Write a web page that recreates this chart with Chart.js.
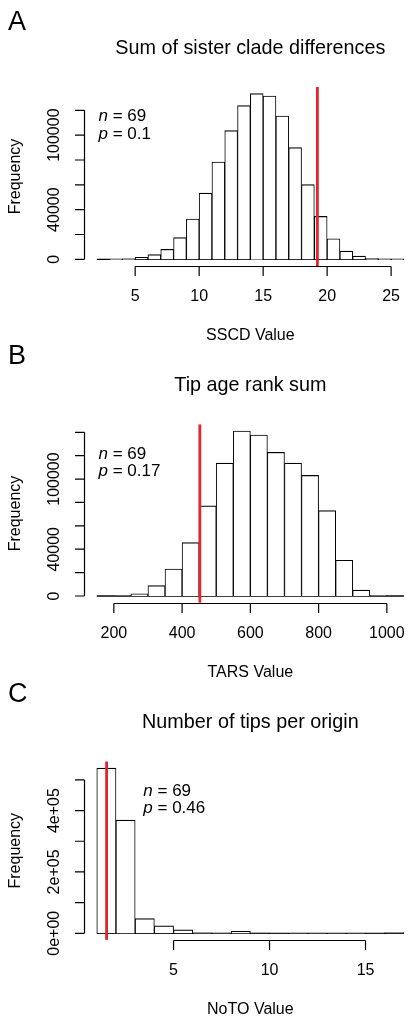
<!DOCTYPE html>
<html>
<head>
<meta charset="utf-8">
<script src="https://cdn.jsdelivr.net/npm/chart.js@4.4.1/dist/chart.umd.min.js"></script>
<style>
  html, body { margin: 0; padding: 0; background: #fff; overflow: hidden; }
  #wrap { position: relative; width: 414px; height: 1024px; overflow: hidden; }
  canvas { position: absolute; left: 0; }
</style>
</head>
<body>
<div id="wrap">
  <canvas id="panelA" width="420" height="340" style="top:0px"></canvas>
  <canvas id="panelB" width="420" height="340" style="top:340px"></canvas>
  <canvas id="panelC" width="420" height="344" style="top:680px"></canvas>
</div>
<script>
// A - sum of sister clade differences (bin lower edges, counts)
const sscdBins   = [2, 3, 4, 5, 6, 7, 8, 9, 10, 11, 12, 13, 14, 15, 16, 17, 18, 19, 20, 21, 22, 23, 24, 25];
const sscdCounts = [0, 100, 400, 1600, 3800, 8100, 17500, 32500, 53400, 78400, 103600, 123700,
                    133400, 131500, 115400, 89900, 60100, 34600, 16600, 6700, 2600, 900, 300, 80];
const sscdObserved = 19.24;
const sscdXTicks = [5, 10, 15, 20, 25];
const sscdYTicks = [0, 20000, 40000, 60000, 80000, 100000, 120000];
const sscdYLabels = ["0", "", "40000", "", "", "100000", ""];

// B - tip age rank sum
const tarsBins   = [150, 200, 250, 300, 350, 400, 450, 500, 550, 600, 650, 700, 750, 800, 850, 900, 950, 1000];
const tarsCounts = [30, 250, 1800, 8900, 23100, 45700, 77100, 113700, 141100, 137700,
                    122900, 113700, 103100, 73100, 30600, 5100, 300, 20];
const tarsObserved = 452;
const tarsXTicks = [200, 400, 600, 800, 1000];
const tarsYTicks = [0, 20000, 40000, 60000, 80000, 100000, 120000, 140000];
const tarsYLabels = ["0", "", "40000", "", "", "100000", "", ""];

// C - number of tips per origin
const notoBins   = [1, 2, 3, 4, 5, 6, 7, 8, 9, 10, 11, 12, 13, 14, 15, 16];
const notoCounts = [538400, 369100, 48000, 24000, 11000, 1500, 700, 6000, 500, 250, 150, 100, 80, 60, 50, 2500];
const notoObserved = 1.51;
const notoXTicks = [5, 10, 15];
const notoYTicks = [0, 100000, 200000, 300000, 400000, 500000];
const notoYLabels = ["0e+00", "", "2e+05", "", "4e+05", ""];

const FONT = '"Liberation Sans", Arial, Helvetica, sans-serif';

// draws the R style frame: axes, labels, title, observed line, n/p note
const histFrame = {
  id: 'histFrame',
  afterDraw(chart, args, o) {
    const ctx = chart.ctx, a = chart.chartArea;
    const xs = chart.scales.x, ys = chart.scales.y;
    ctx.save();

    // observed value
    const rx = xs.getPixelForValue(o.observed);
    ctx.strokeStyle = '#e1262d';
    ctx.lineWidth = 2.8;
    ctx.beginPath(); ctx.moveTo(rx, a.top); ctx.lineTo(rx, a.bottom); ctx.stroke();

    ctx.strokeStyle = '#000';
    ctx.fillStyle = '#000';
    ctx.lineWidth = 1.2;

    // x axis
    const by = Math.round(a.bottom) + 0.5;
    const x0 = xs.getPixelForValue(o.xTicks[0]);
    const x1 = xs.getPixelForValue(o.xTicks[o.xTicks.length - 1]);
    ctx.beginPath(); ctx.moveTo(x0, by); ctx.lineTo(x1, by);
    o.xTicks.forEach(t => {
      const px = xs.getPixelForValue(t);
      ctx.moveTo(px, by); ctx.lineTo(px, by + 9.5);
    });
    ctx.stroke();
    ctx.font = '16px ' + FONT;
    ctx.textAlign = 'center';
    ctx.textBaseline = 'middle';
    o.xTicks.forEach(t => ctx.fillText(String(t), xs.getPixelForValue(t), a.bottom + 31));
    ctx.fillText(o.xTitle, (a.left + a.right) / 2, a.bottom + 70);

    // y axis
    const lx = Math.round(a.left) - 0.5;
    const y0 = ys.getPixelForValue(o.yTicks[0]);
    const y1 = ys.getPixelForValue(o.yTicks[o.yTicks.length - 1]);
    ctx.beginPath(); ctx.moveTo(lx, y0); ctx.lineTo(lx, y1);
    o.yTicks.forEach(t => {
      const py = ys.getPixelForValue(t);
      ctx.moveTo(lx, py); ctx.lineTo(lx - 9.5, py);
    });
    ctx.stroke();
    o.yTicks.forEach((t, i) => {
      if (!o.yLabels[i]) return;
      ctx.save();
      ctx.translate(a.left - 29.5, ys.getPixelForValue(t));
      ctx.rotate(-Math.PI / 2);
      ctx.fillText(o.yLabels[i], 0, 0);
      ctx.restore();
    });
    ctx.save();
    ctx.translate(a.left - 69, (a.top + a.bottom) / 2);
    ctx.rotate(-Math.PI / 2);
    ctx.fillText('Frequency', 0, 0);
    ctx.restore();

    // title and panel letter
    ctx.font = '19.8px ' + FONT;
    ctx.fillText(o.title, (a.left + a.right) / 2, a.top - 38.5);
    ctx.font = '27px ' + FONT;
    ctx.textAlign = 'left';
    ctx.fillText(o.letter, 8, a.top - o.letterUp);

    // n / p note
    ctx.font = 'italic 17px ' + FONT;
    const nx = a.left + o.noteX, ny = a.top + 29.5;
    ctx.fillText('n', nx, ny);
    ctx.fillText('p', nx, ny + 17.5);
    const nw = ctx.measureText('n').width, pw = ctx.measureText('p').width;
    ctx.font = '17px ' + FONT;
    ctx.fillText(' = ' + o.n, nx + nw, ny);
    ctx.fillText(' = ' + o.p, nx + pw, ny + 17.5);

    ctx.restore();
  }
};

function makeHist(id, bins, counts, pad, frame) {
  const w = bins[1] - bins[0];
  const last = bins[bins.length - 1] + w;
  const xr = last - bins[0];
  const top = Math.max(...counts);
  new Chart(document.getElementById(id), {
    type: 'bar',
    data: {
      datasets: [
        {
          type: 'bar',
          data: bins.map((b, i) => ({ x: b + w / 2, y: counts[i] })),
          backgroundColor: '#ffffff',
          borderColor: '#000000',
          borderWidth: { top: 1.2, left: 1, right: 1, bottom: 0 },
          borderSkipped: false,
          barPercentage: 1,
          categoryPercentage: 1,
          grouped: false
        },
        {
          type: 'line',
          data: [{ x: bins[0], y: 0 }, { x: last, y: 0 }],
          borderColor: '#000000',
          borderWidth: 1.3,
          pointRadius: 0
        }
      ]
    },
    options: {
      responsive: false,
      devicePixelRatio: 1,
      animation: false,
      layout: { padding: pad },
      scales: {
        x: { type: 'linear', offset: false, display: false,
             min: bins[0] - 0.04 * xr, max: last + 0.04 * xr },
        y: { display: false, min: -0.04 * top, max: 1.04 * top }
      },
      plugins: { legend: { display: false }, tooltip: { enabled: false }, histFrame: frame }
    },
    plugins: [histFrame]
  });
}

makeHist('panelA', sscdBins, sscdCounts,
  { left: 84.5, right: 3.8, top: 87, bottom: 74 },
  { observed: sscdObserved, xTicks: sscdXTicks, yTicks: sscdYTicks, yLabels: sscdYLabels,
    xTitle: 'SSCD Value', title: 'Sum of sister clade differences', letter: 'A', letterUp: 64.5,
    noteX: 14, n: 69, p: 0.1 });

makeHist('panelB', tarsBins, tarsCounts,
  { left: 84.5, right: 3.8, top: 84.4, bottom: 77.4 },
  { observed: tarsObserved, xTicks: tarsXTicks, yTicks: tarsYTicks, yLabels: tarsYLabels,
    xTitle: 'TARS Value', title: 'Tip age rank sum', letter: 'B', letterUp: 67.7,
    noteX: 14, n: 69, p: 0.17 });

makeHist('panelC', notoBins, notoCounts,
  { left: 84.5, right: 3.8, top: 81.5, bottom: 84.1 },
  { observed: notoObserved, xTicks: notoXTicks, yTicks: notoYTicks, yLabels: notoYLabels,
    xTitle: 'NoTO Value', title: 'Number of tips per origin', letter: 'C', letterUp: 66.5,
    noteX: 58.8, n: 69, p: 0.46 });
</script>
</body>
</html>
